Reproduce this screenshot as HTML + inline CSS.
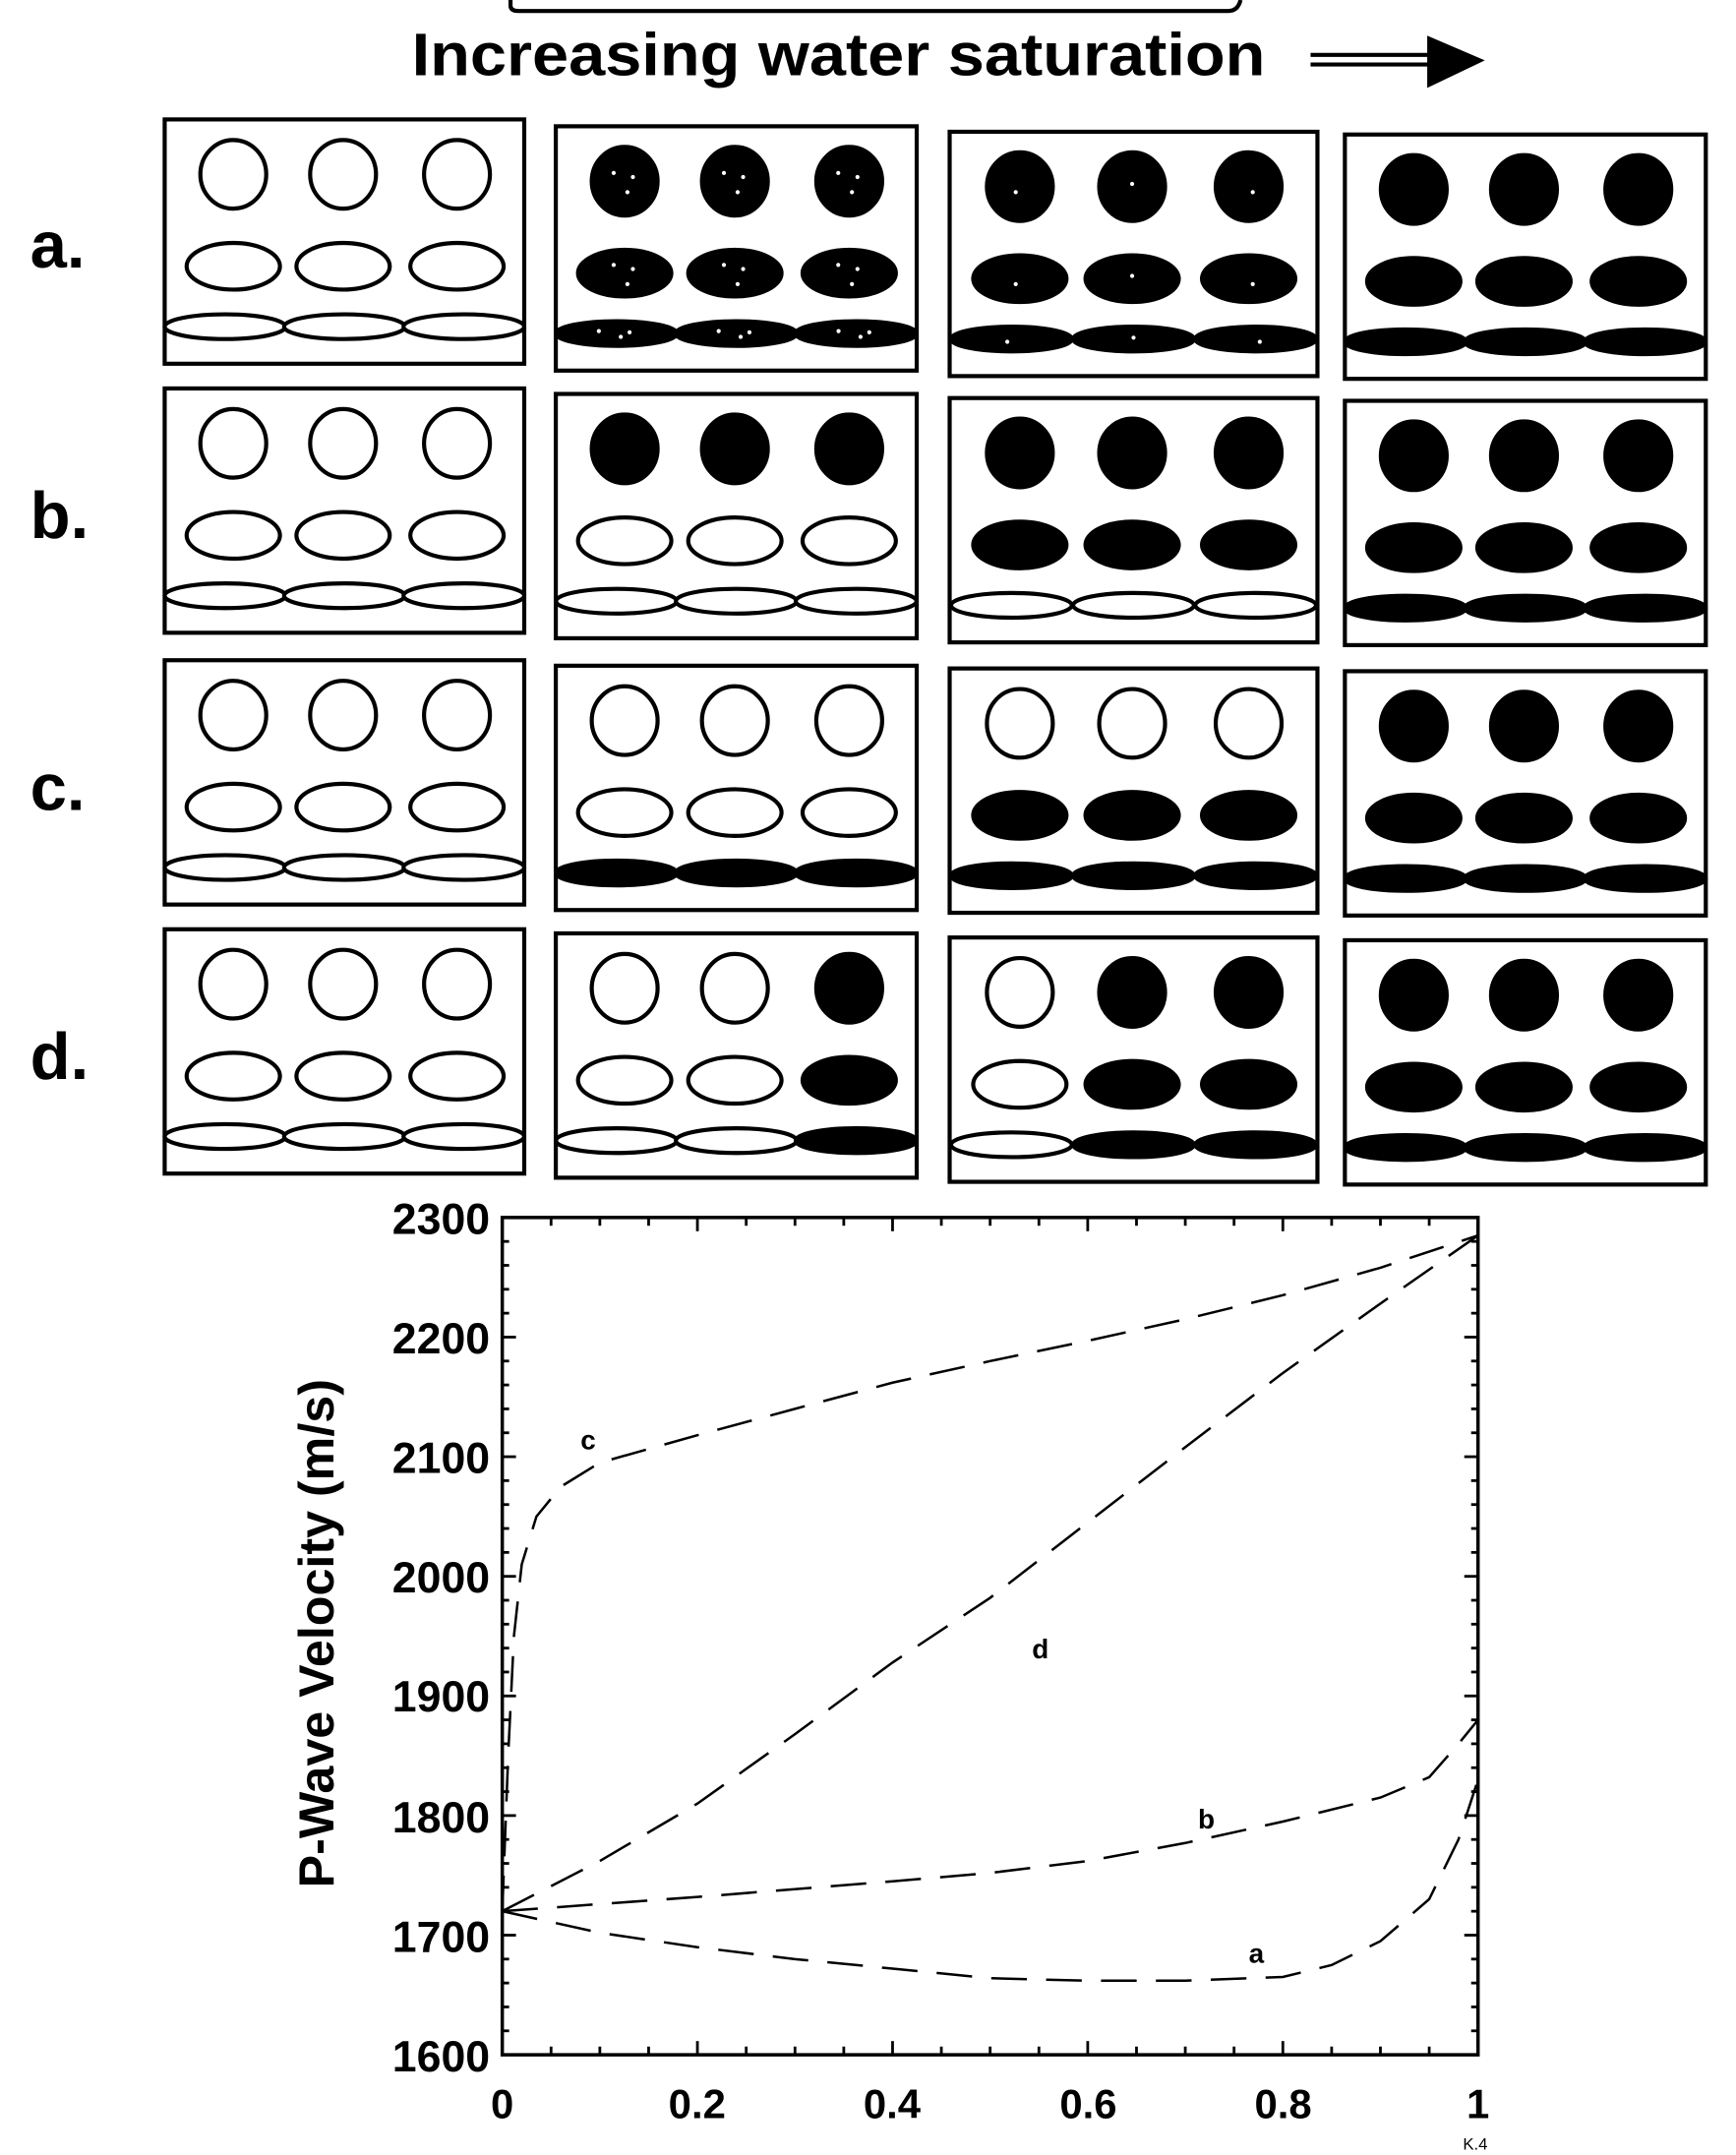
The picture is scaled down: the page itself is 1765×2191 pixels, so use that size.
<!DOCTYPE html>
<html><head><meta charset="utf-8"><style>
html,body{margin:0;padding:0;background:#fff;}
svg{display:block;}
text{font-family:"Liberation Sans",Arial,sans-serif;font-weight:bold;fill:#000;}
</style></head><body>
<svg id="s" width="1765" height="2191" viewBox="0 0 1265 1570" preserveAspectRatio="none" xmlns="http://www.w3.org/2000/svg">
<path d="M372 0 L372 4 Q372 8 378 8 L895 8 Q902 8 904 0" fill="none" stroke="#000" stroke-width="3"/>
<text x="300" y="55" font-size="44" textLength="622" lengthAdjust="spacingAndGlyphs">Increasing water saturation</text>
<line x1="955" y1="40" x2="1045" y2="40" stroke="#000" stroke-width="3"/>
<line x1="955" y1="47" x2="1045" y2="47" stroke="#000" stroke-width="3"/>
<polygon points="1040,26 1082,44 1040,64" fill="#000"/>
<text x="22" y="195" font-size="48">a.</text>
<text x="22" y="392" font-size="48">b.</text>
<text x="22" y="590" font-size="48">c.</text>
<text x="22" y="786" font-size="48">d.</text>
<g id="panels"></g>
<g id="chart" fill="none" stroke="#000">
<rect x="366" y="887" width="711" height="610" stroke-width="2.5"/>
</g>
<g font-size="32" text-anchor="end">
<text x="357" y="899">2300</text><text x="357" y="986">2200</text><text x="357" y="1073">2100</text><text x="357" y="1160">2000</text><text x="357" y="1247">1900</text><text x="357" y="1335">1800</text><text x="357" y="1422">1700</text><text x="357" y="1509">1600</text>
</g>
<g font-size="30" text-anchor="middle">
<text x="366" y="1543">0</text><text x="508" y="1543">0.2</text><text x="650" y="1543">0.4</text><text x="793" y="1543">0.6</text><text x="935" y="1543">0.8</text><text x="1077" y="1543">1</text>
</g>
<text x="1075" y="1566" font-size="12" text-anchor="middle" style="font-weight:normal">K.4</text>
<text transform="translate(243,1190) rotate(-90)" font-size="36" text-anchor="middle">P-Wave Velocity (m/s)</text>
<g font-size="20">
<text x="423" y="1056">c</text><text x="752" y="1208">d</text><text x="873" y="1332">b</text><text x="910" y="1430">a</text>
</g>
</svg>
<script>
var NS="http://www.w3.org/2000/svg";
function el(p,t,a){var e=document.createElementNS(NS,t);for(var k in a)e.setAttribute(k,a[k]);p.appendChild(e);return e;}
var P=document.getElementById('panels');
var cols=[[120,405,692,980],[262,263,268,263]];
var rowY=[[87,92,96,98],[283,287,290,292],[481,485,487,489],[677,680,683,685]];
function all(v){return [[v,v,v],[v,v,v],[v,v,v]];}
var F=[
 [all(0),all(2),all(3),all(1)],
 [all(0),[[1,1,1],[0,0,0],[0,0,0]],[[1,1,1],[1,1,1],[0,0,0]],all(1)],
 [all(0),[[0,0,0],[0,0,0],[1,1,1]],[[0,0,0],[1,1,1],[1,1,1]],all(1)],
 [all(0),[[0,0,1],[0,0,1],[0,0,1]],[[0,1,1],[0,1,1],[0,1,1]],all(1)]
];
for(var r=0;r<4;r++)for(var c=0;c<4;c++){
 var x=cols[0][c],y=rowY[r][c],w=cols[1][c],h=178;
 el(P,'rect',{x:x,y:y,width:w,height:h,fill:'#fff',stroke:'#000','stroke-width':3});
 var shapes=[[[50,130,213],40,24,25],[[50,130,213],107,34,17],[[44,131,218],151,44,9]];
 for(var s=0;s<3;s++)for(var i=0;i<3;i++){
  var f=F[r][c][s][i];
  var cx=x+shapes[s][0][i]*w/262,cy=y+shapes[s][1];
  el(P,'ellipse',{cx:cx,cy:cy,rx:shapes[s][2],ry:shapes[s][3],fill:f?'#000':'#fff',stroke:'#000','stroke-width':3});
  if(f==2){[[-8,-6],[6,-3],[2,8]].forEach(function(d){el(P,'circle',{cx:cx+d[0]*(s==2?1.6:1),cy:cy+d[1]*(s==2?0.3:1),r:1.5,fill:'#fff'});});}
  if(f==3){el(P,'circle',{cx:cx+(i-1)*3,cy:cy+(i==1?-2:4)*(s==2?0.5:1),r:1.5,fill:'#fff'});}
 }
}
var C=document.getElementById('chart');
function X(v){return 366+711*v;}function Y(v){return 887+(2300-v)*0.8714;}
for(var i=1;i<20;i++){var xx=X(i/20),L=i%4==0?10:6;el(C,'line',{x1:xx,y1:1497,x2:xx,y2:1497-L,'stroke-width':2});el(C,'line',{x1:xx,y1:887,x2:xx,y2:887+L,'stroke-width':2});}
for(var v=1620;v<2300;v+=20){var yy=Y(v),L=v%100==0?10:5;el(C,'line',{x1:366,y1:yy,x2:366+L,y2:yy,'stroke-width':2});el(C,'line',{x1:1077,y1:yy,x2:1077-L,y2:yy,'stroke-width':2});}
function curve(pts){var d='';pts.forEach(function(p,i){d+=(i?'L':'M')+X(p[0]).toFixed(1)+' '+Y(p[1]).toFixed(1);});el(C,'path',{d:d,'stroke-width':1.8,'stroke-dasharray':'26 14'});}
curve([[0,1720],[0.006,1850],[0.012,1950],[0.02,2010],[0.035,2050],[0.06,2075],[0.1,2095],[0.2,2118],[0.3,2140],[0.4,2162],[0.5,2180],[0.6,2197],[0.7,2215],[0.8,2235],[0.9,2258],[1,2285]]);
curve([[0,1720],[0.1,1762],[0.2,1810],[0.3,1868],[0.4,1928],[0.5,1982],[0.6,2045],[0.7,2108],[0.8,2170],[0.9,2228],[1,2285]]);
curve([[0,1720],[0.2,1732],[0.4,1745],[0.5,1752],[0.6,1762],[0.7,1777],[0.8,1795],[0.9,1815],[0.95,1832],[0.98,1860],[1,1880]]);
curve([[0,1720],[0.1,1702],[0.2,1690],[0.3,1680],[0.4,1672],[0.5,1664],[0.6,1662],[0.7,1662],[0.8,1665],[0.85,1675],[0.9,1695],[0.95,1730],[0.98,1780],[1,1830]]);
</script>
</body></html>
